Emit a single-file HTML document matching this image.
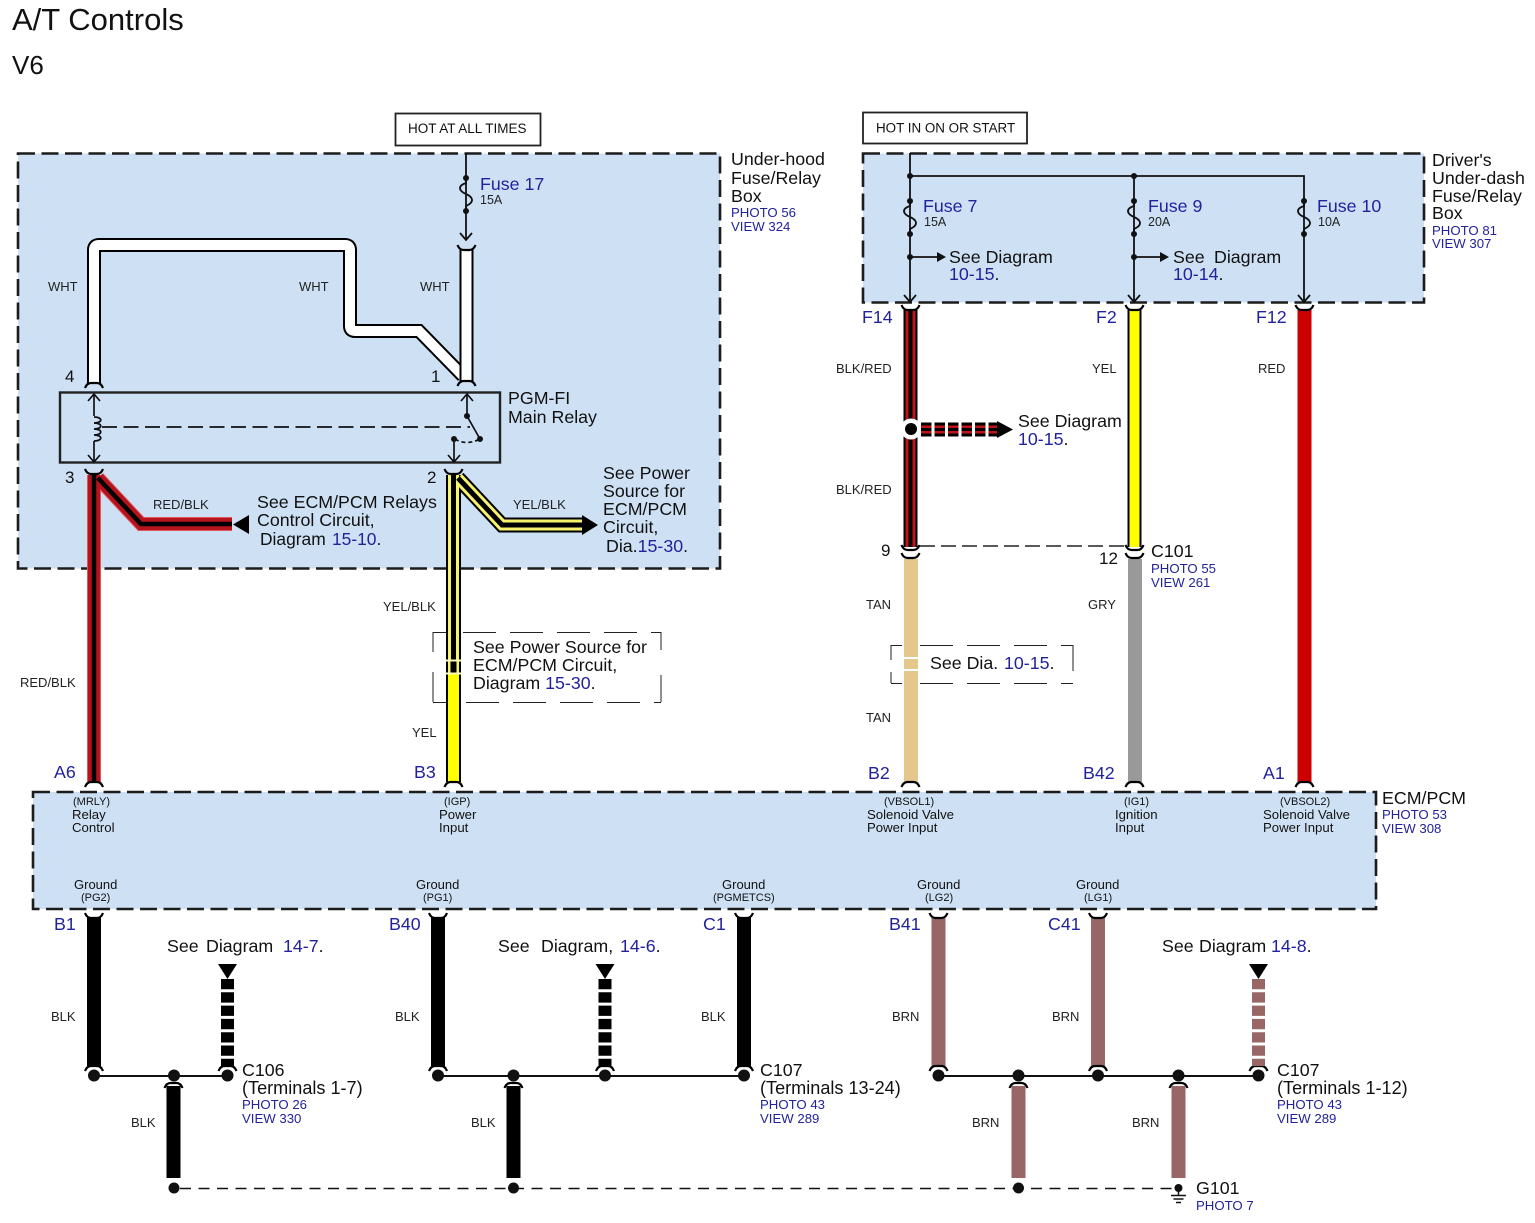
<!DOCTYPE html>
<html><head><meta charset="utf-8"><title>A/T Controls</title>
<style>
html,body{margin:0;padding:0;background:#fff}
svg{display:block}
text{font-family:"Liberation Sans",sans-serif;fill:#111}
.b{fill:#22229c}
.w{font-size:13px;fill:#222}
.s{font-size:12.5px;fill:#222}
.m{font-size:17.8px}
.t{font-size:18.1px}
.f{font-size:17.8px;fill:#22229c}
.p{font-size:13.2px;fill:#22229c}
.n{font-size:17px}
.a{font-size:13px}
</style></head><body>
<svg width="1535" height="1223" viewBox="0 0 1535 1223" xmlns="http://www.w3.org/2000/svg">
<defs>
<path id="ct" d="M-9,-4 Q-7,1 -3,1 L3,1 Q7,1 9,-4" fill="none" stroke="#000" stroke-width="2.2"/>
<path id="cb" d="M-9,4 Q-7,-1 -3,-1 L3,-1 Q7,-1 9,4" fill="none" stroke="#000" stroke-width="2.2"/>
<g id="fuse"><circle cx="0" cy="0" r="3" fill="#111"/><circle cx="0" cy="33" r="3" fill="#111"/><path d="M0,0 V5 C-9,8 -7,13 0,16 C7,19 9,24 0,28 V33" fill="none" stroke="#111" stroke-width="1.800"/></g>
<path id="ah" d="M-6,-7 L0,0 L6,-7" fill="none" stroke="#111" stroke-width="1.800"/>
</defs>

<text x="12" y="30" font-size="31">A/T Controls</text>
<text x="12" y="74" font-size="26">V6</text>

<!-- boxes -->
<g fill="#cee1f4" stroke="#1c1c1c" stroke-width="2.6" stroke-dasharray="17,6.5">
<rect x="18" y="153.500" width="702" height="415"/>
<rect x="863" y="153.500" width="561" height="149"/>
<rect x="33" y="792" width="1343" height="117"/>
</g>
<rect x="395.500" y="113.500" width="145" height="32" fill="#fff" stroke="#222" stroke-width="1.800"/>
<text x="408" y="133" font-size="13.5">HOT AT ALL TIMES</text>
<rect x="863" y="112.500" width="164" height="31" fill="#fff" stroke="#222" stroke-width="1.800"/>
<text x="876" y="132.500" font-size="13.4">HOT IN ON OR START</text>

<!-- Under-hood labels -->
<text class="m" x="731" y="165">Under-hood</text>
<text class="m" x="731" y="184">Fuse/Relay</text>
<text class="m" x="731" y="202">Box</text>
<text class="p" x="731" y="217">PHOTO 56</text>
<text class="p" x="731" y="231">VIEW 324</text>

<text class="m" x="1432" y="166">Driver's</text>
<text class="m" x="1432" y="184">Under-dash</text>
<text class="m" x="1432" y="202">Fuse/Relay</text>
<text class="m" x="1432" y="219">Box</text>
<text class="p" x="1432" y="235">PHOTO 81</text>
<text class="p" x="1432" y="248">VIEW 307</text>

<!-- Fuse 17 -->
<path d="M466,153 V240" stroke="#111" stroke-width="1.800" fill="none"/>
<use href="#fuse" x="466" y="178"/>
<use href="#ah" x="466" y="240"/>
<text class="f" x="480" y="190">Fuse 17</text>
<text class="s" x="480" y="204">15A</text>

<!-- white wires -->
<path d="M94,383 V250 Q94,245 99,245 H345 Q350,245 350,250 V326 Q350,331 355,331 H419 L463,376" fill="none" stroke="#000" stroke-width="14"/>
<path d="M94,383 V250 Q94,245 99,245 H345 Q350,245 350,250 V326 Q350,331 355,331 H419 L463,376" fill="none" stroke="#fff" stroke-width="10"/>
<rect x="459.500" y="249" width="14" height="132" fill="#000"/>
<rect x="461.500" y="249" width="10" height="132" fill="#fff"/>
<use href="#ct" x="466.500" y="249"/>
<use href="#cb" x="466.500" y="382"/>
<use href="#cb" x="94" y="384"/>
<text class="w" x="48" y="291">WHT</text>
<text class="w" x="299" y="291">WHT</text>
<text class="w" x="420" y="291">WHT</text>
<text class="n" x="65" y="382">4</text>
<text class="n" x="431" y="382">1</text>

<!-- relay -->
<rect x="60" y="392.500" width="440" height="70" fill="none" stroke="#222" stroke-width="2.400"/>
<text class="m" x="508" y="404">PGM-FI</text>
<text class="m" x="508" y="423">Main Relay</text>
<g fill="none" stroke="#111" stroke-width="1.700">
<path d="M94,394 V416 M94,441 V462"/>
<path d="M94,417 c9,0 9,6 0,6 c9,0 9,6 0,6 c9,0 9,6 0,6 c9,0 9,6 0,6"/>
<path d="M88,401 L94,394 L100,401 M88,455 L94,462 L100,455"/>
<path d="M102,427 H470" stroke-dasharray="15,6.5"/>
<path d="M467,394 V416 L480,439"/>
<path d="M461,401 L467,394 L473,401"/>
<path d="M455,439 Q466,446 480,439" stroke-dasharray="4,3"/>
<path d="M454,439 V462 M448,455 L454,462 L460,455"/>
</g>
<circle cx="467" cy="416" r="3" fill="#111"/><circle cx="480" cy="439" r="3" fill="#111"/><circle cx="454" cy="439" r="3" fill="#111"/>

<!-- RED/BLK wire -->
<text class="n" x="65" y="483">3</text>
<text class="n" x="427" y="483">2</text>
<path d="M94,475 V782 M98,478 L141,524 H232" fill="none" stroke="#e2555c" stroke-width="14"/>
<path d="M94,475 V782 M98,478 L141,524 H232" fill="none" stroke="#b5141c" stroke-width="12"/>
<path d="M94,475 V782 M98,478 L141,524 H232" fill="none" stroke="#000" stroke-width="4.500"/>
<use href="#ct" x="94" y="473"/>
<use href="#cb" x="94" y="783"/>
<path d="M249,515 V534 L233,524.500 Z" fill="#000"/>
<text class="w" x="153" y="509">RED/BLK</text>
<text class="m" x="257" y="508">See ECM/PCM Relays</text>
<text class="m" x="257" y="526">Control Circuit,</text>
<text x="260" y="545" style="font-size:17.4px">Diagram <tspan class="b" x="332">15-10</tspan>.</text>
<text class="w" x="20" y="687">RED/BLK</text>
<text class="f" x="54" y="778">A6</text>

<!-- YEL/BLK wire -->
<path d="M453.500,475 V660 M458,478 L502,525 H585" fill="none" stroke="#000" stroke-width="15"/>
<path d="M453.500,475 V660 M458,478 L502,525 H585" fill="none" stroke="#f7f36c" stroke-width="11"/>
<path d="M453.500,475 V660 M458,478 L502,525 H585" fill="none" stroke="#000" stroke-width="5"/>
<rect x="446" y="660" width="15" height="122" fill="#000"/>
<rect x="448" y="674" width="11" height="108" fill="#ffff00"/>
<rect x="448" y="660" width="2.500" height="14" fill="#f7f36c"/><rect x="456.500" y="660" width="2.500" height="14" fill="#f7f36c"/>
<rect x="445" y="659.500" width="17" height="2" fill="#fdfdc0"/>
<rect x="445" y="672.500" width="17" height="2" fill="#fdfdc0"/>
<use href="#ct" x="453.500" y="473"/>
<use href="#cb" x="453.500" y="783"/>
<path d="M582,515 V535 L598,525 Z" fill="#000"/>
<text class="w" x="513" y="509">YEL/BLK</text>
<text class="m" x="603" y="479">See Power</text>
<text class="m" x="603" y="497">Source for</text>
<text class="m" x="603" y="515">ECM/PCM</text>
<text class="m" x="603" y="533">Circuit,</text>
<text class="m" x="606" y="552">Dia.<tspan class="b">15-30</tspan>.</text>
<text class="w" x="383" y="611">YEL/BLK</text>
<text class="w" x="412" y="737">YEL</text>
<text class="f" x="414" y="778">B3</text>
<!-- dashed note -->
<g fill="none" stroke="#222" stroke-width="1" stroke-dasharray="33,14">
<path d="M433,632.500 H446 M463,632.500 H661"/>
<path d="M433,702.500 H446 M466,702.500 H661"/>
</g>
<path d="M433,632 V652 M433,672 V702 M661,632 V650 M661,675 V702" stroke="#222" stroke-width="1" fill="none"/>
<text class="m" x="473" y="653">See Power Source for</text>
<text class="m" x="473" y="671">ECM/PCM Circuit,</text>
<text class="m" x="473" y="689">Diagram <tspan class="b">15-30</tspan>.</text>

<!-- Driver box wiring -->
<g fill="none" stroke="#111" stroke-width="1.800">
<path d="M910,153 V302 M910,176 H1304 V302 M1134,176 V302"/>
<path d="M910,257 H938 M1134,257 H1160"/>
</g>
<g fill="#111">
<circle cx="910" cy="176" r="3"/><circle cx="1134" cy="176" r="3"/>
<circle cx="910" cy="257" r="3"/><circle cx="1134" cy="257" r="3"/>
<path d="M937,252 L946,257 L937,262Z M1160,252 L1169,257 L1160,262Z"/>
</g>
<use href="#fuse" x="910" y="201"/><use href="#fuse" x="1134" y="201"/><use href="#fuse" x="1304" y="201"/>
<use href="#ah" x="910" y="302"/><use href="#ah" x="1134" y="302"/><use href="#ah" x="1304" y="302"/>
<text class="f" x="923" y="212">Fuse 7</text><text class="s" x="924" y="226">15A</text>
<text class="f" x="1148" y="212">Fuse 9</text><text class="s" x="1148" y="226">20A</text>
<text class="f" x="1317" y="212">Fuse 10</text><text class="s" x="1318" y="226">10A</text>
<text class="m" x="949" y="263">See Diagram</text>
<text class="f" x="949" y="280">10-15<tspan style="fill:#111">.</tspan></text>
<text class="m" x="1173" y="263">See <tspan x="1214">Diagram</tspan></text>
<text class="f" x="1173" y="280">10-14<tspan style="fill:#111">.</tspan></text>
<text class="f" x="862" y="323">F14</text>
<text class="f" x="1096" y="323">F2</text>
<text class="f" x="1256" y="323">F12</text>

<!-- BLK/RED -->
<rect x="903.500" y="310" width="14" height="237" fill="#000"/>
<rect x="905.500" y="310" width="10" height="237" fill="#c0141c"/>
<rect x="908.500" y="310" width="4" height="237" fill="#000"/>
<use href="#ct" x="910.500" y="309"/>
<use href="#ct" x="910.500" y="549"/>
<circle cx="911" cy="429" r="10.500" fill="#fff"/><circle cx="911" cy="429" r="6" fill="#000"/>
<g stroke-dasharray="10.500,3">
<path d="M921,429.500 H997" stroke="#000" stroke-width="14"/>
<path d="M921,429.500 H997" stroke="#c0141c" stroke-width="8"/>
<path d="M921,429.500 H997" stroke="#000" stroke-width="3"/>
</g>
<path d="M997,421 V438 L1013,429.500 Z" fill="#000"/>
<text class="m" x="1018" y="427">See Diagram</text>
<text class="f" x="1018" y="445">10-15<tspan style="fill:#111">.</tspan></text>
<text class="w" x="836" y="373">BLK/RED</text>
<text class="w" x="836" y="494">BLK/RED</text>
<text class="w" x="1092" y="373">YEL</text>
<text class="w" x="1258" y="373">RED</text>

<!-- tan -->
<rect x="904" y="559" width="14" height="223" fill="#e3c78c"/>
<rect x="902" y="657" width="18" height="2" fill="#fff"/><rect x="902" y="669" width="18" height="2" fill="#fff"/>
<use href="#ct" x="910.500" y="557"/><use href="#cb" x="910.500" y="783"/>
<text class="n" x="881" y="556">9</text>
<text class="w" x="866" y="609">TAN</text>
<text class="w" x="866" y="722">TAN</text>
<text class="f" x="868" y="779">B2</text>
<g fill="none" stroke="#222" stroke-width="1" stroke-dasharray="33,14">
<path d="M891,645.500 H902 M920,645.500 H1073"/>
<path d="M891,683.500 H902 M920,683.500 H1073"/>
</g>
<path d="M891,645 V660 M891,672 V683 M1073,645 V671" stroke="#222" stroke-width="1" fill="none"/>
<text class="m" x="930" y="669">See Dia. <tspan class="b" x="1004">10-15</tspan>.</text>

<!-- yellow / gray -->
<path d="M920,546 H1126" stroke="#222" stroke-width="1.400" stroke-dasharray="15,6" fill="none"/>
<rect x="1127.500" y="310" width="14" height="237" fill="#000"/>
<rect x="1129.500" y="310" width="10" height="237" fill="#ffff00"/>
<use href="#ct" x="1134.500" y="309"/><use href="#ct" x="1134.500" y="549"/>
<rect x="1128" y="559" width="14" height="223" fill="#999"/>
<use href="#ct" x="1134.500" y="557"/><use href="#cb" x="1134.500" y="783"/>
<text class="n" x="1099" y="564">12</text>
<text class="m" x="1151" y="557">C101</text>
<text class="p" x="1151" y="573">PHOTO 55</text>
<text class="p" x="1151" y="587">VIEW 261</text>
<text class="w" x="1088" y="609">GRY</text>
<text class="f" x="1083" y="779">B42</text>

<!-- red -->
<rect x="1297.500" y="310" width="14" height="472" fill="#cc0000"/>
<use href="#ct" x="1304.500" y="309"/><use href="#cb" x="1304.500" y="783"/>
<text class="f" x="1263" y="779">A1</text>

<!-- ECM labels -->
<text class="m" x="1382" y="804">ECM/PCM</text>
<text class="p" x="1382" y="819">PHOTO 53</text>
<text class="p" x="1382" y="833">VIEW 308</text>
<g class="a">
<text x="73" y="805" font-size="11">(MRLY)</text><text x="72" y="819" font-size="13.2">Relay</text><text x="72" y="832" font-size="13.2">Control</text>
<text x="444" y="805" font-size="11">(IGP)</text><text x="439" y="819" font-size="13.2">Power</text><text x="439" y="832" font-size="13.2">Input</text>
<text x="884" y="805" font-size="11">(VBSOL1)</text><text x="867" y="819" font-size="13.2">Solenoid Valve</text><text x="867" y="832" font-size="13.2">Power Input</text>
<text x="1124" y="805" font-size="11">(IG1)</text><text x="1115" y="819" font-size="13.2">Ignition</text><text x="1115" y="832" font-size="13.2">Input</text>
<text x="1280" y="805" font-size="11">(VBSOL2)</text><text x="1263" y="819" font-size="13.2">Solenoid Valve</text><text x="1263" y="832" font-size="13.2">Power Input</text>
<text x="74" y="889" font-size="13">Ground</text><text x="81" y="901" font-size="11">(PG2)</text>
<text x="416" y="889" font-size="13">Ground</text><text x="423" y="901" font-size="11">(PG1)</text>
<text x="722" y="889" font-size="13">Ground</text><text x="713" y="901" font-size="11">(PGMETCS)</text>
<text x="917" y="889" font-size="13">Ground</text><text x="925" y="901" font-size="11">(LG2)</text>
<text x="1076" y="889" font-size="13">Ground</text><text x="1084" y="901" font-size="11">(LG1)</text>
</g>

<!-- bottom black wires -->
<g fill="#000">
<rect x="87" y="917" width="14" height="149"/>
<rect x="431" y="917" width="14" height="149"/>
<rect x="737" y="917" width="14" height="149"/>
<rect x="166.500" y="1086" width="14" height="92"/>
<rect x="506.500" y="1086" width="14" height="92"/>
</g>
<g fill="#996666">
<rect x="931.500" y="917" width="14" height="149"/>
<rect x="1091" y="917" width="14" height="149"/>
<rect x="1011.500" y="1086" width="14" height="92"/>
<rect x="1171.500" y="1086" width="14" height="92"/>
</g>
<g>
<use href="#ct" x="94" y="917"/><use href="#cb" x="94" y="1067"/>
<use href="#ct" x="438" y="917"/><use href="#cb" x="438" y="1067"/>
<use href="#ct" x="744" y="917"/><use href="#cb" x="744" y="1067"/>
<use href="#ct" x="938.500" y="917"/><use href="#cb" x="938.500" y="1067"/>
<use href="#ct" x="1098" y="917"/><use href="#cb" x="1098" y="1067"/>
<use href="#cb" x="173.500" y="1084"/>
<use href="#cb" x="513.500" y="1084"/>
<use href="#cb" x="1018.500" y="1084"/>
<use href="#cb" x="1178.500" y="1084"/>
<use href="#cb" x="227.500" y="1067"/><use href="#cb" x="605" y="1067"/><use href="#cb" x="1258.500" y="1067"/>
</g>
<!-- hatched -->
<path d="M227.500,979 V1066 M605,979 V1066" stroke="#000" stroke-width="13" stroke-dasharray="10.300,3"/>
<path d="M1258.500,979 V1066" stroke="#996666" stroke-width="13" stroke-dasharray="10.300,3"/>
<path d="M218,964 H237 L227.500,979 Z M595.500,964 H614.500 L605,979 Z M1249,964 H1268 L1258.500,979 Z" fill="#000"/>

<path d="M94,1076 H227 M438,1076 H744 M938,1076 H1259" stroke="#111" stroke-width="2" fill="none"/>
<g fill="#111">
<circle cx="94" cy="1075.500" r="6"/><circle cx="174" cy="1075.500" r="6"/><circle cx="227.500" cy="1075.500" r="6"/>
<circle cx="438" cy="1075.500" r="6"/><circle cx="513.500" cy="1075.500" r="6"/><circle cx="605" cy="1075.500" r="6"/><circle cx="744" cy="1075.500" r="6"/>
<circle cx="938.500" cy="1075.500" r="6"/><circle cx="1018.500" cy="1075.500" r="6"/><circle cx="1098" cy="1075.500" r="6"/><circle cx="1178.500" cy="1075.500" r="6"/><circle cx="1258.500" cy="1075.500" r="6"/>
</g>
<path d="M180,1188.500 H1172" stroke="#111" stroke-width="1.500" stroke-dasharray="11,7.500" fill="none"/>
<g fill="#111">
<circle cx="174" cy="1188" r="5.500"/><circle cx="513.500" cy="1188" r="5.500"/><circle cx="1018.500" cy="1188" r="5.500"/><circle cx="1178.500" cy="1188" r="4"/>
</g>
<path d="M1178.500,1188 V1195 M1171,1195.500 H1186 M1173.500,1199 H1183.500 M1176,1202.500 H1181" stroke="#111" stroke-width="1.500" fill="none"/>

<!-- bottom labels -->
<text class="f" x="54" y="930">B1</text>
<text class="f" x="389" y="930">B40</text>
<text class="f" x="703" y="930">C1</text>
<text class="f" x="889" y="930">B41</text>
<text class="f" x="1048" y="930">C41</text>
<text class="m" x="167" y="952">See <tspan x="206">Diagram</tspan> <tspan class="b" x="283">14-7</tspan>.</text>
<text class="m" x="498" y="952">See <tspan x="541">Diagram,</tspan> <tspan class="b" x="620">14-6</tspan>.</text>
<text class="m" x="1162" y="952">See <tspan x="1199">Diagram</tspan> <tspan class="b" x="1271">14-8</tspan>.</text>
<text class="w" x="51" y="1021">BLK</text>
<text class="w" x="395" y="1021">BLK</text>
<text class="w" x="701" y="1021">BLK</text>
<text class="w" x="892" y="1021">BRN</text>
<text class="w" x="1052" y="1021">BRN</text>
<text class="w" x="131" y="1127">BLK</text>
<text class="w" x="471" y="1127">BLK</text>
<text class="w" x="972" y="1127">BRN</text>
<text class="w" x="1132" y="1127">BRN</text>
<text class="m" x="242" y="1076">C106</text>
<text class="t" x="242" y="1094">(Terminals 1-7)</text>
<text class="p" x="242" y="1109">PHOTO 26</text>
<text class="p" x="242" y="1123">VIEW 330</text>
<text class="m" x="760" y="1076">C107</text>
<text class="t" x="760" y="1094">(Terminals 13-24)</text>
<text class="p" x="760" y="1109">PHOTO 43</text>
<text class="p" x="760" y="1123">VIEW 289</text>
<text class="m" x="1277" y="1076">C107</text>
<text class="t" x="1277" y="1094">(Terminals 1-12)</text>
<text class="p" x="1277" y="1109">PHOTO 43</text>
<text class="p" x="1277" y="1123">VIEW 289</text>
<text class="m" x="1196" y="1194">G101</text>
<text class="p" x="1196" y="1210">PHOTO 7</text>
</svg>
</body></html>
